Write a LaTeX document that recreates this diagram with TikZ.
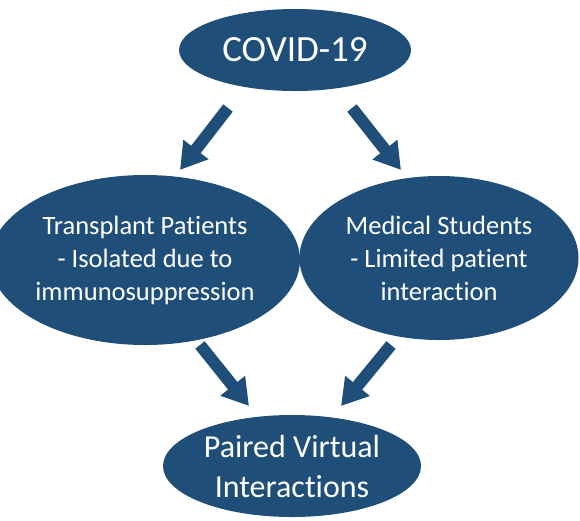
\documentclass[tikz,border=0pt]{standalone}
\usepackage{fontspec}
\setmainfont[Ligatures={NoCommon}]{Carlito}
\usetikzlibrary{arrows.meta,shapes.geometric}
\definecolor{navy}{HTML}{1F4E79}
\begin{document}
\begin{tikzpicture}[x=1pt,y=-1pt,
  oval/.style={ellipse,fill=navy,draw=none,text=white,inner sep=0pt,align=center},
  bigarrow/.style={navy,line width=12pt,-{Triangle[width=30pt,length=26pt]}}]
\useasboundingbox (0,0) rectangle (580,520);
\node[oval,minimum width=232pt,minimum height=82pt,font=\fontsize{37}{40}\selectfont] (covid) at (295,50) {COVID-19};
\node[oval,minimum width=282pt,minimum height=170pt,font=\fontsize{26.5}{33}\selectfont] (trans) at (145,260) {Transplant Patients\\- Isolated due to\\immunosuppression};
\node[oval,minimum width=279pt,minimum height=164pt,font=\fontsize{26.5}{33}\selectfont] (med) at (439,258) {Medical Students\\- Limited patient\\interaction};
\node[oval,minimum width=258pt,minimum height=102pt,font=\fontsize{32}{40}\selectfont] (paired) at (292,466) {Paired Virtual\\Interactions};
\coordinate (a1s) at (228,108);
\coordinate (a1e) at (180,170);
\coordinate (a2s) at (352,108);
\coordinate (a2e) at (401,170);
\coordinate (a3s) at (200,345);
\coordinate (a3e) at (249,406);
\coordinate (a4s) at (391,345);
\coordinate (a4e) at (341,406);
\draw[bigarrow] (a1s) -- (a1e);
\draw[bigarrow] (a2s) -- (a2e);
\draw[bigarrow] (a3s) -- (a3e);
\draw[bigarrow] (a4s) -- (a4e);
\end{tikzpicture}
\end{document}
